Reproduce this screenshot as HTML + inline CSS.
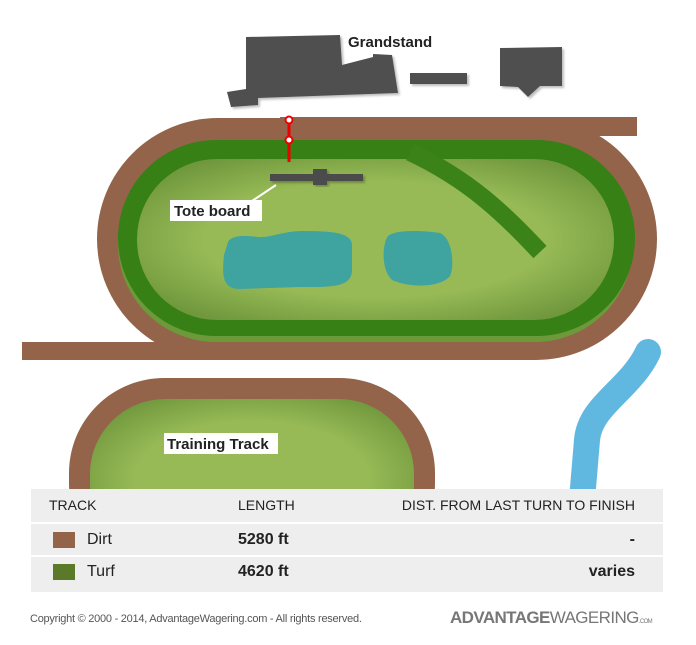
<!DOCTYPE html>
<html><head><meta charset="utf-8"><style>
body{margin:0;width:696px;height:645px;background:#fff;overflow:hidden;position:relative;font-family:"Liberation Sans",sans-serif}
.t{position:absolute;left:31px;width:632px;background:#eee;font-size:14px;color:#222}
</style></head><body>
<svg width="696" height="645" style="position:absolute;left:0;top:0">
<defs>
<radialGradient id="g" cx="50%" cy="50%" r="60%"><stop offset="0.6" stop-color="#97ba56"/><stop offset="1" stop-color="#6f973c"/></radialGradient>
<filter id="s"><feDropShadow dx="2" dy="2" stdDeviation="1" flood-color="#000" flood-opacity="0.25"/></filter>
<clipPath id="c"><rect x="0" y="0" width="696" height="489"/></clipPath>
</defs>
<g fill="#4f4f4f" filter="url(#s)">
<polygon points="246,37 340,35 342,65 373,57 373,54 392,55 398,93 258,98 258,105 231,107 227,92 246,89"/>
<rect x="410" y="73" width="57" height="11"/>
<polygon points="500,48 562,47 562,86 540,86 528,97 518,87 500,86"/>
</g>
<text x="348" y="47" font-weight="bold" font-size="15" fill="#222">Grandstand</text>
<rect x="280" y="117" width="357" height="19" fill="#94644a"/>
<rect x="22" y="342" width="260" height="18" fill="#94644a"/>
<rect x="97" y="118" width="560" height="242" rx="121" fill="#94644a"/>
<rect x="118" y="146" width="515" height="196" rx="98" fill="#6c9a3a"/>
<rect x="118" y="140" width="517" height="196" rx="98" fill="#368015"/>
<rect x="137" y="159" width="477" height="161" rx="80" fill="url(#g)"/>
<path d="M410,152 C470,180 505,215 540,252" stroke="#3b8219" stroke-width="18" fill="none"/>
<path d="M228,242 C232,234 250,236 258,237 C270,238 280,232 300,231 C330,231 352,232 352,245 L352,270 C352,288 330,287 300,287 L240,289 C222,289 222,275 224,255 Z" fill="#3fa3a0"/>
<path d="M388,236 C395,230 420,230 440,233 C452,238 455,265 450,276 C440,288 410,288 392,280 C381,270 382,244 388,236 Z" fill="#3fa3a0"/>
<g fill="#4b4b4b" filter="url(#s)"><rect x="270" y="174" width="93" height="7"/><rect x="313" y="169" width="14" height="16"/></g>
<line x1="252" y1="201" x2="276" y2="185" stroke="#fff" stroke-width="2"/>
<rect x="170" y="200" width="92" height="21" fill="#fff"/>
<text x="174" y="216" font-weight="bold" font-size="15" fill="#222">Tote board</text>
<line x1="289" y1="120" x2="289" y2="162" stroke="#e00" stroke-width="3"/>
<circle cx="289" cy="120" r="3.5" fill="#fff" stroke="#e00" stroke-width="2"/>
<circle cx="289" cy="140" r="3.5" fill="#fff" stroke="#e00" stroke-width="2"/>
<g clip-path="url(#c)">
<rect x="69" y="378" width="366" height="200" rx="95" fill="#94644a"/>
<rect x="90" y="399" width="324" height="160" rx="75" fill="url(#g)"/>
<path d="M648,352 C630,390 590,405 587,440 L582,500" stroke="#60b8e0" stroke-width="26" fill="none" stroke-linecap="round"/>
</g>
<rect x="164" y="433" width="114" height="21" fill="#fff"/>
<text x="167" y="449" font-weight="bold" font-size="15" fill="#222">Training Track</text>
</svg>
<div class="t" style="top:489px;height:33px;line-height:33px"><span style="position:absolute;left:18px">TRACK</span><span style="position:absolute;left:207px">LENGTH</span><span style="position:absolute;right:28px">DIST. FROM LAST TURN TO FINISH</span></div>
<div class="t" style="top:524px;height:31px;line-height:31px;font-size:16px"><span style="position:absolute;left:22px;top:8px;width:22px;height:16px;background:#94644a"></span><span style="position:absolute;left:56px">Dirt</span><b style="position:absolute;left:207px">5280 ft</b><b style="position:absolute;right:28px">-</b></div>
<div class="t" style="top:557px;height:35px;line-height:30px;font-size:16px"><span style="position:absolute;left:22px;top:7px;width:22px;height:16px;background:#5a7a2a"></span><span style="position:absolute;left:56px">Turf</span><b style="position:absolute;left:207px">4620 ft</b><b style="position:absolute;right:28px">varies</b></div>
<div style="position:absolute;left:30px;top:613px;font-size:11px;color:#555;letter-spacing:-0.25px">Copyright © 2000 - 2014, AdvantageWagering.com - All rights reserved.</div>
<div style="position:absolute;left:450px;top:608px;font-size:17px;color:#777;letter-spacing:-0.6px"><b>ADVANTAGE</b>WAGERING<span style="font-size:6px">.COM</span></div>
</body></html>
